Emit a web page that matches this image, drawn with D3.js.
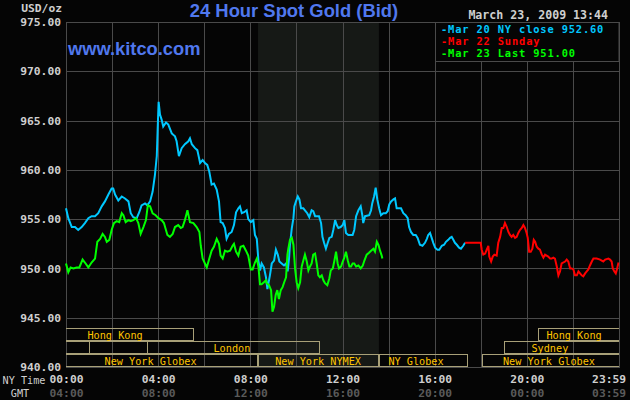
<!DOCTYPE html>
<html>
<head>
<meta charset="utf-8">
<script src="https://cdn.jsdelivr.net/npm/d3@7"></script>
<style>
    body { margin: 0; background: #050505; }
    svg { display: block; }
    .mono { font-family: "DejaVu Sans Mono", "Liberation Mono", monospace; }
</style>
</head>
<body>
<script>
// times are NY hours of the day, prices USD/oz
const nyClose = [
    [0.00,956.1],[0.10,955.1],[0.25,954.2],[0.39,954.2],[0.53,953.9],[0.68,954.2],[0.82,954.6],[0.97,955.1],
    [1.11,955.3],[1.26,955.3],[1.40,955.6],[1.55,956.3],[1.69,956.8],[1.84,957.5],[1.98,958.1],[2.05,958.1],
    [2.13,957.5],[2.27,956.9],[2.42,957.3],[2.56,957.1],[2.71,956.8],[2.81,955.6],[2.92,955.2],[3.07,955.1],
    [3.18,955.7],[3.28,956.4],[3.43,956.6],[3.53,956.4],[3.65,956.8],[3.76,957.8],[3.86,959.5],[3.94,961.4],
    [3.98,964.3],[4.02,966.9],[4.08,965.6],[4.15,965.1],[4.22,964.4],[4.34,964.8],[4.44,964.6],[4.59,963.7],
    [4.73,963.4],[4.80,962.9],[4.90,961.4],[5.02,962.2],[5.16,962.6],[5.31,962.9],[5.38,963.2],[5.46,962.6],
    [5.60,962.2],[5.70,962.0],[5.82,960.7],[5.93,961.0],[6.03,960.7],[6.13,960.5],[6.22,959.8],[6.32,958.5],
    [6.42,958.6],[6.54,958.0],[6.64,956.8],[6.71,954.7],[6.80,954.6],[6.90,954.1],[6.97,953.0],[7.07,953.5],
    [7.19,953.7],[7.29,954.4],[7.38,955.7],[7.48,956.1],[7.55,956.3],[7.63,955.6],[7.73,955.7],[7.84,955.9],
    [7.91,955.0],[8.02,954.7],[8.13,954.9],[8.20,953.4],[8.28,953.0],[8.35,950.8],[8.42,949.8],[8.49,950.5],
    [8.59,950.1],[8.68,949.1],[8.74,947.9],[8.85,949.3],[8.93,950.5],[9.03,950.8],[9.11,951.9],[9.19,951.4],
    [9.26,950.7],[9.36,950.5],[9.46,950.3],[9.55,950.5],[9.62,949.7],[9.68,951.0],[9.72,952.4],[9.80,954.1],
    [9.87,955.1],[9.91,956.3],[9.98,956.8],[10.06,957.3],[10.13,957.0],[10.20,956.1],[10.30,956.1],[10.37,955.9],
    [10.47,955.6],[10.56,955.2],[10.66,955.9],[10.73,955.8],[10.81,955.3],[10.98,955.3],[11.07,954.6],[11.13,953.2],
    [11.20,952.6],[11.28,952.0],[11.36,952.6],[11.43,953.1],[11.53,953.2],[11.60,953.9],[11.68,954.9],[11.75,954.4],
    [11.82,954.1],[11.92,954.2],[12.01,954.4],[12.08,954.9],[12.15,953.6],[12.25,953.4],[12.44,953.4],[12.51,953.9],
    [12.59,955.3],[12.69,955.9],[12.79,956.3],[12.86,955.4],[12.90,954.6],[12.98,955.3],[13.16,955.4],[13.24,955.9],
    [13.29,956.6],[13.37,957.3],[13.44,958.2],[13.51,957.0],[13.59,956.1],[13.67,955.4],[13.77,955.6],[13.88,955.6],
    [13.96,955.8],[14.03,956.5],[14.11,956.8],[14.21,957.0],[14.28,957.1],[14.35,956.1],[14.54,956.1],[14.64,955.6],
    [14.74,955.4],[14.83,955.1],[14.89,954.2],[14.97,953.7],[15.07,953.4],[15.18,953.4],[15.26,953.1],[15.36,952.4],
    [15.47,952.3],[15.58,952.6],[15.66,953.0],[15.72,953.4],[15.80,953.6],[15.87,953.1],[15.94,952.6],[16.02,952.1],
    [16.12,951.9],[16.20,951.9],[16.31,952.3],[16.41,952.4],[16.49,952.7],[16.59,952.9],[16.67,953.1],[16.74,953.2],
    [16.81,952.9],[16.88,952.6],[16.96,952.4],[17.06,952.1],[17.14,952.0],[17.24,952.3],[17.32,952.6]
];

const sunday = [
    [17.32,952.6],[18.00,952.6],[18.04,951.9],[18.11,951.4],[18.19,951.5],[18.26,951.9],[18.33,952.3],[18.37,951.2],
    [18.45,950.7],[18.52,951.2],[18.59,951.4],[18.69,951.3],[18.76,952.6],[18.84,953.2],[18.91,954.1],[18.98,954.1],
    [19.05,954.6],[19.13,954.2],[19.20,953.7],[19.27,953.4],[19.34,953.2],[19.41,953.4],[19.49,953.1],[19.56,953.2],
    [19.63,953.6],[19.70,953.9],[19.78,954.1],[19.85,954.4],[19.92,954.1],[19.99,953.6],[20.04,953.1],[20.10,951.7],
    [20.17,951.7],[20.24,952.0],[20.30,952.9],[20.36,952.7],[20.43,952.2],[20.50,952.0],[20.57,951.9],[20.65,951.4],
    [20.72,951.1],[20.79,951.4],[20.86,951.3],[20.93,951.2],[21.01,951.0],[21.08,951.0],[21.15,951.1],[21.22,951.0],
    [21.30,950.2],[21.37,949.3],[21.44,949.7],[21.51,950.5],[21.66,950.7],[21.73,950.9],[21.80,950.7],[21.88,950.0],
    [21.95,950.0],[22.02,949.9],[22.09,949.3],[22.17,949.3],[22.24,949.7],[22.31,949.5],[22.38,949.3],[22.45,949.2],
    [22.53,949.5],[22.60,949.7],[22.67,949.9],[22.74,950.3],[22.82,950.7],[22.89,951.0],[23.03,951.0],[23.18,950.9],
    [23.25,950.8],[23.32,950.7],[23.40,950.9],[23.54,951.0],[23.61,950.9],[23.68,950.7],[23.73,950.0],[23.80,949.7],
    [23.86,949.5],[23.92,950.0],[23.98,950.6]
];

const today = [
    [0.00,950.5],[0.10,949.6],[0.20,950.1],[0.32,950.0],[0.46,950.1],[0.58,950.1],[0.72,950.9],[0.82,950.6],
    [0.97,950.1],[1.11,950.6],[1.26,951.0],[1.36,952.7],[1.48,953.0],[1.59,953.5],[1.69,953.2],[1.77,952.7],
    [1.88,952.9],[1.98,953.9],[2.08,954.6],[2.20,954.8],[2.31,954.7],[2.42,955.6],[2.49,955.4],[2.59,954.7],
    [2.71,954.9],[2.81,954.8],[2.92,954.9],[3.04,955.1],[3.14,954.6],[3.24,953.5],[3.36,954.2],[3.47,954.9],
    [3.55,956.4],[3.65,956.3],[3.76,955.6],[3.89,955.4],[4.01,955.1],[4.15,954.9],[4.25,954.6],[4.40,953.4],
    [4.51,953.2],[4.63,953.5],[4.73,954.2],[4.87,954.4],[4.98,954.1],[5.06,954.2],[5.16,954.9],[5.27,955.9],
    [5.38,954.7],[5.53,954.6],[5.67,954.2],[5.79,953.7],[5.85,952.3],[5.93,951.0],[6.03,950.5],[6.11,950.1],
    [6.22,951.0],[6.32,951.8],[6.42,952.2],[6.54,953.0],[6.64,952.5],[6.71,951.3],[6.80,951.0],[6.90,951.8],
    [7.00,951.7],[7.12,951.8],[7.23,952.3],[7.29,952.5],[7.38,951.7],[7.48,951.3],[7.58,952.2],[7.70,952.3],
    [7.81,951.8],[7.91,951.3],[8.02,949.9],[8.10,949.9],[8.20,950.6],[8.28,951.0],[8.35,950.2],[8.42,948.4],
    [8.49,948.4],[8.59,948.6],[8.68,948.8],[8.71,948.5],[8.81,948.3],[8.90,947.8],[8.96,945.6],[9.03,946.1],
    [9.10,947.3],[9.17,947.8],[9.24,946.9],[9.32,947.8],[9.40,948.1],[9.47,948.6],[9.55,949.1],[9.61,951.4],
    [9.65,952.0],[9.72,952.9],[9.80,953.1],[9.87,952.4],[9.94,950.0],[10.01,948.6],[10.08,948.0],[10.16,948.6],
    [10.23,950.2],[10.30,950.8],[10.37,951.4],[10.45,950.7],[10.52,949.8],[10.59,950.2],[10.66,950.5],[10.73,951.4],
    [10.81,951.5],[10.88,950.5],[10.95,949.3],[11.02,949.1],[11.10,949.3],[11.17,948.8],[11.24,948.5],[11.34,948.3],
    [11.43,949.0],[11.49,949.8],[11.58,950.0],[11.65,950.8],[11.72,951.7],[11.79,950.5],[11.85,950.0],[11.94,950.2],
    [12.01,950.7],[12.08,951.1],[12.15,951.7],[12.23,950.8],[12.30,950.2],[12.37,950.2],[12.44,950.5],[12.51,950.5],
    [12.59,950.2],[12.69,950.3],[12.79,950.0],[12.88,950.3],[12.95,950.8],[13.05,951.4],[13.15,951.6],[13.24,951.8],
    [13.34,952.0],[13.41,951.7],[13.49,952.7],[13.56,952.4],[13.63,951.8],[13.70,951.3],[13.73,951.0]
];

const legendLabels = ["-Mar 20 NY close 952.60", "-Mar 22 Sunday", "-Mar 23 Last 951.00"];
const yTicks = [940, 945, 950, 955, 960, 965, 970, 975];
const xTicks = [0, 4, 8, 12, 16, 20, 23.983];
const nyLabels = ["00:00", "04:00", "08:00", "12:00", "16:00", "20:00", "23:59"];
const gmtLabels = ["04:00", "08:00", "12:00", "16:00", "20:00", "00:00", "03:59"];
const nymexHours = [8.333, 13.58];

// trading sessions: row, open, close, name, where the name sits
const sessions = [
    [0, -1.5, 5.5, "Hong Kong", 2.13],
    [0, 20.5, 25, "Hong Kong", 22.05],
    [1, -1, 1.0, "", 0],
    [1, 1.0, 3.52, "", 0],
    [1, 3.52, 11.0, "London", 7.2],
    [1, 19.0, 25, "Sydney", 21.0],
    [2, -1, 8.28, "New York Globex", 3.67],
    [2, 8.33, 13.55, "New York NYMEX", 10.94],
    [2, 13.6, 17.4, "NY Globex", 15.19],
    [2, 18.05, 25, "New York Globex", 20.96]
];

let w = 630;
let h = 400;
let padL = 66, padR = 619, padT = 22, padB = 367;
const bg = "#050505";
const gridColor = "#4a4a4a";

const svg = d3.select("body")
    .append("svg")
    .attr("width", w)
    .attr("height", h);

svg.append("rect").attr("width", w).attr("height", h).attr("fill", bg);

const xScale = d3.scaleLinear().domain([0, 24]).range([padL, padR]);
const yScale = d3.scaleLinear().domain([940, 975]).range([padB, padT]);

svg.append("defs").append("clipPath").attr("id", "plot")
    .append("rect")
    .attr("x", padL).attr("y", padT)
    .attr("width", padR - padL).attr("height", padB - padT);

// NYMEX pit hours shading
svg.append("rect")
    .attr("x", xScale(nymexHours[0]))
    .attr("y", padT)
    .attr("width", xScale(nymexHours[1]) - xScale(nymexHours[0]))
    .attr("height", padB - padT)
    .attr("fill", "#161916");

// grid
svg.append("g")
    .selectAll("line")
    .data(d3.range(2, 24, 2))
    .enter()
    .append("line")
    .attr("x1", d => Math.round(xScale(d)) + 0.5)
    .attr("x2", d => Math.round(xScale(d)) + 0.5)
    .attr("y1", padT)
    .attr("y2", padB)
    .attr("stroke", gridColor);

svg.append("g")
    .selectAll("line")
    .data(yTicks.slice(1, -1))
    .enter()
    .append("line")
    .attr("x1", padL)
    .attr("x2", padR)
    .attr("y1", d => Math.round(yScale(d)) + 0.5)
    .attr("y2", d => Math.round(yScale(d)) + 0.5)
    .attr("stroke", gridColor);

svg.append("rect")
    .attr("x", padL + 0.5).attr("y", padT + 0.5)
    .attr("width", padR - padL).attr("height", padB - padT)
    .attr("fill", "none")
    .attr("stroke", gridColor);

// session boxes along the bottom
const sessionG = svg.append("g").attr("clip-path", "url(#plot)");
sessionG.selectAll("rect")
    .data(sessions)
    .enter()
    .append("rect")
    .attr("x", d => Math.round(xScale(d[1])) + 0.5)
    .attr("y", d => 328.5 + d[0] * 13)
    .attr("width", d => Math.round(xScale(d[2])) - Math.round(xScale(d[1])))
    .attr("height", 12)
    .attr("fill", "none")
    .attr("stroke", "#a8a078");

sessionG.selectAll("text")
    .data(sessions.filter(d => d[3] !== ""))
    .enter()
    .append("text")
    .attr("class", "mono")
    .attr("x", d => xScale(d[4]))
    .attr("y", d => 338.5 + d[0] * 13)
    .attr("text-anchor", "middle")
    .attr("font-size", "10.2px")
    .attr("fill", "#ffc400")
    .text(d => d[3]);

// lines
const line = d3.line()
    .x(d => xScale(d[0]))
    .y(d => yScale(d[1]));

[[nyClose, "#00c8ff"], [sunday, "#ff0000"], [today, "#00ff00"]].forEach(function (s) {
    svg.append("path")
        .datum(s[0])
        .attr("d", line)
        .attr("fill", "none")
        .attr("stroke", s[1])
        .attr("stroke-width", 2)
        .attr("stroke-linejoin", "miter");
});

// axes
const yAxis = svg.append("g")
    .attr("transform", "translate(" + padL + ",0)")
    .call(d3.axisLeft(yScale).tickValues(yTicks).tickSize(0).tickPadding(5).tickFormat(d3.format(".2f")));

const nyAxis = svg.append("g")
    .attr("transform", "translate(0," + padB + ")")
    .call(d3.axisBottom(xScale).tickValues(xTicks).tickSize(0).tickPadding(8)
        .tickFormat((d, i) => nyLabels[i]));

const gmtAxis = svg.append("g")
    .attr("transform", "translate(0," + padB + ")")
    .call(d3.axisBottom(xScale).tickValues(xTicks).tickSize(0).tickPadding(22)
        .tickFormat((d, i) => gmtLabels[i]));

[yAxis, nyAxis, gmtAxis].forEach(function (a) {
    a.select(".domain").remove();
    a.selectAll("text")
        .attr("font-family", "DejaVu Sans Mono, Liberation Mono, monospace")
        .attr("font-size", "11.3px")
        .attr("font-weight", "bold")
        .attr("fill", "#cfcfcf");
});
gmtAxis.selectAll("text").attr("fill", "#5a5a5a");
nyAxis.selectAll(".tick:last-of-type text").attr("text-anchor", "end").attr("dx", 7);
gmtAxis.selectAll(".tick:last-of-type text").attr("text-anchor", "end").attr("dx", 7);

svg.append("text")
    .attr("class", "mono")
    .attr("x", 62).attr("y", 12.3)
    .attr("text-anchor", "end")
    .attr("font-size", "11.3px")
    .attr("font-weight", "bold")
    .attr("fill", "#cfcfcf")
    .text("USD/oz");

svg.append("text")
    .attr("class", "mono")
    .attr("x", 24).attr("y", 384)
    .attr("text-anchor", "middle")
    .attr("font-size", "10.2px")
    .attr("fill", "#cfcfcf")
    .text("NY Time");

svg.append("text")
    .attr("class", "mono")
    .attr("x", 20).attr("y", 397)
    .attr("text-anchor", "middle")
    .attr("font-size", "10.2px")
    .attr("fill", "#cfcfcf")
    .text("GMT");

// titles
svg.append("text")
    .attr("x", 294).attr("y", 17)
    .attr("text-anchor", "middle")
    .attr("font-family", "Liberation Sans, Arial, sans-serif")
    .attr("font-size", "18.4px")
    .attr("font-weight", "bold")
    .attr("fill", "#5078ee")
    .text("24 Hour Spot Gold (Bid)");

svg.append("text")
    .attr("x", 68).attr("y", 55)
    .attr("font-family", "Liberation Sans, Arial, sans-serif")
    .attr("font-size", "18.3px")
    .attr("font-weight", "bold")
    .attr("fill", "#5078ee")
    .text("www.kitco.com");

svg.append("text")
    .attr("class", "mono")
    .attr("x", 608).attr("y", 19)
    .attr("text-anchor", "end")
    .attr("font-size", "11.6px")
    .attr("font-weight", "bold")
    .attr("fill", "#cfcfcf")
    .text("March 23, 2009 13:44");

// legend
svg.append("rect")
    .attr("x", 435.5).attr("y", padT + 0.5)
    .attr("width", padR - 435.5).attr("height", 39)
    .attr("fill", bg)
    .attr("stroke", gridColor);

svg.selectAll(".legend")
    .data(legendLabels)
    .enter()
    .append("text")
    .attr("class", "mono legend")
    .attr("x", 441)
    .attr("y", (d, i) => 33 + i * 12.2)
    .attr("font-size", "10.4px")
    .attr("letter-spacing", "0.84px")
    .attr("font-weight", "bold")
    .attr("fill", (d, i) => ["#00c8ff", "#ff0000", "#00ff00"][i])
    .text(d => d);
</script>
</body>
</html>
